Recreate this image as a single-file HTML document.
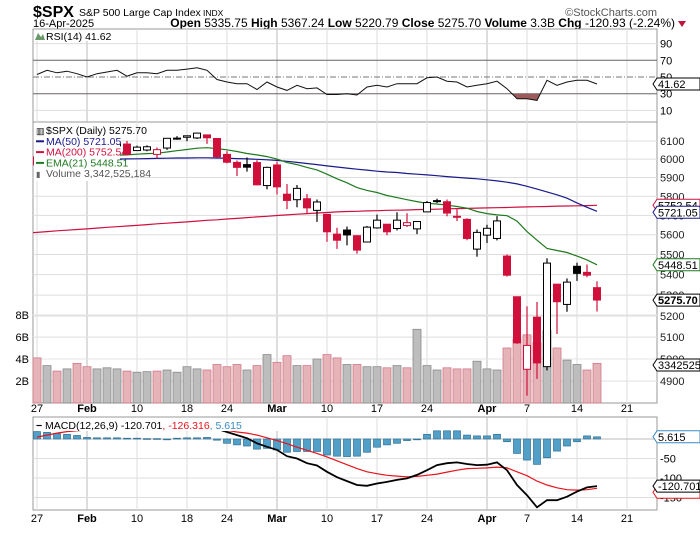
<!DOCTYPE html>
<html><head><meta charset="utf-8"><style>
body{margin:0;background:#fff;width:700px;height:530px;overflow:hidden;font-family:"Liberation Sans",sans-serif}
svg text{font-family:"Liberation Sans",sans-serif}
</style></head><body>
<svg id="c" width="700" height="530" viewBox="0 0 700 530" xmlns="http://www.w3.org/2000/svg">
<rect width="700" height="530" fill="#fff"/>
<g>
<text x="33" y="17" font-size="16" font-weight="bold">$SPX</text>
<text x="79" y="16" font-size="10.5">S&amp;P 500 Large Cap Index</text>
<text x="203" y="16" font-size="8.5">INDX</text>
<text x="657" y="16" font-size="11" fill="#555" text-anchor="end">©StockCharts.com</text>
<text x="33" y="27" font-size="11">16-Apr-2025</text>
<text x="675" y="27" font-size="12" text-anchor="end"><tspan font-weight="bold">Open</tspan> 5335.75 <tspan font-weight="bold">High</tspan> 5367.24 <tspan font-weight="bold">Low</tspan> 5220.79 <tspan font-weight="bold">Close</tspan> 5275.70 <tspan font-weight="bold">Volume</tspan> 3.3B <tspan font-weight="bold">Chg</tspan> -120.93 (-2.24%)</text>
<polygon points="678,21 686,21 682,27" fill="#c0143c"/>
</g>
<g id="grid"></g>
<g id="vol"></g>
<g id="lines"></g>
<g id="candles"></g>
<g id="rsi"></g>
<g id="macd"></g>
<g id="over"></g>
</svg>
<script>
const dates=['Jan27','Jan28','Jan29','Jan30','Jan31','Feb3','Feb4','Feb5','Feb6','Feb7','Feb10','Feb11','Feb12','Feb13','Feb14','Feb18','Feb19','Feb20','Feb21','Feb24','Feb25','Feb26','Feb27','Feb28','Mar3','Mar4','Mar5','Mar6','Mar7','Mar10','Mar11','Mar12','Mar13','Mar14','Mar17','Mar18','Mar19','Mar20','Mar21','Mar24','Mar25','Mar26','Mar27','Mar28','Mar31','Apr1','Apr2','Apr3','Apr4','Apr7','Apr8','Apr9','Apr10','Apr11','Apr14','Apr15','Apr16'];
const opens=[5969,6026,6057,6050,6082,5969,5998,6020,6073,6083,6047,6050,6026,6061,6116,6121,6117,6134,6114,6026,5982,5970,5981,5857,5968,5811,5782,5787,5726,5705,5603,5624,5595,5563,5635,5654,5632,5647,5630,5718,5775,5771,5695,5679,5527,5598,5581,5492,5292,4953,5194,4965,5353,5255,5441,5411,5336];
const highs=[6017,6069,6062,6086,6120,6023,6042,6062,6084,6101,6074,6076,6064,6116,6127,6129,6147,6134,6114,6044,5992,6009,5994,5959,5986,5865,5860,5812,5783,5705,5636,5642,5597,5645,5704,5654,5716,5711,5670,5775,5787,5783,5732,5685,5627,5651,5696,5500,5292,5246,5267,5481,5353,5381,5459,5450,5367];
const lows=[5962,6013,6020,6028,6031,5923,5990,6007,6051,6020,6046,6043,6004,6051,6107,6099,6111,6084,6009,5977,5908,5932,5858,5837,5810,5732,5742,5711,5666,5564,5528,5546,5504,5563,5631,5597,5622,5640,5603,5718,5764,5695,5670,5572,5489,5558,5571,5390,5069,4835,4910,4948,5115,5220,5369,5387,5221];
const closes=[6012,6067,6039,6071,6040,5994,6037,6061,6083,6026,6066,6068,6052,6115,6115,6129,6144,6118,6013,5983,5955,5956,5861,5955,5850,5778,5842,5739,5770,5615,5572,5599,5522,5639,5675,5615,5675,5662,5668,5767,5777,5712,5693,5581,5612,5633,5671,5397,5074,5062,4982,5457,5268,5363,5406,5397,5276];
const volumes=[4.1,3.4,2.9,3.1,3.6,3.3,3.1,3.2,3.1,2.9,2.8,2.85,2.9,3.0,2.8,3.3,3.1,3.0,3.5,3.3,3.5,3.0,3.4,4.4,3.7,4.3,3.4,3.4,4.0,4.4,4.1,3.5,3.5,3.3,3.3,3.2,3.4,3.2,6.7,3.4,3.0,3.2,3.1,3.1,3.8,3.1,3.0,5.0,5.8,6.2,5.5,6.6,5.0,3.9,3.5,3.0,3.6];
const ma50=[5985,5988,5990,5992,5994,5995,5997,5998,6000,6001,6002,6003,6004,6005,6006,6006,6007,6007,6006,6005,6003,6001,5999,5996,5993,5988,5982,5976,5970,5963,5957,5951,5945,5940,5934,5930,5927,5922,5918,5914,5910,5905,5901,5897,5893,5888,5882,5875,5866,5853,5838,5823,5808,5790,5765,5742,5721];
const ma200=[5612,5616,5620,5623,5627,5630,5634,5638,5641,5645,5648,5652,5656,5659,5663,5666,5670,5674,5677,5681,5684,5688,5692,5695,5699,5702,5706,5709,5712,5715,5718,5720,5721,5723,5724,5726,5727,5728,5730,5731,5732,5734,5735,5736,5738,5739,5740,5741,5743,5744,5745,5746,5748,5749,5750,5751,5752.5];
const ema21=[5990,5997,6000,6006,6009,6008,6011,6016,6022,6023,6027,6030,6032,6039,6046,6053,6060,6063,6058,6051,6042,6031,6023,6014,6000,5981,5970,5955,5941,5918,5893,5872,5846,5831,5820,5804,5793,5782,5772,5763,5759,5753,5746,5737,5720,5709,5702,5698,5670,5616,5572,5530,5520,5510,5492,5473,5448.5];
const rsiVals=[53,58,55,57,54,50,54,56,58,51,55,55,54,58,58,59.5,61,58,47,44,42,42,35,44,38,34,40,36,37,29,29,30,28.5,38,40,38,42,42,42,49,50,45,44,38,40,42,45,36,24,24,22,46,40,44,46,46,41.6];
const macdVals=[24,27,29,31,30,27,28,28,27,27,28,28,28,28,29,29,28,27,26,18,10,2,-11,-20,-28,-44,-50,-62,-68,-84,-98,-108,-118,-120,-114,-110,-105,-101,-92,-80,-67,-62,-60,-64,-67,-66,-60,-80,-118,-144,-175,-157,-157,-148,-135,-124,-120.7];
const signalVals=[5,10,15,19,21,23,24,24,24,24,24,24,24,25,25,25,24,24,23,22,18,15,10,3,-4,-12,-21,-29,-37,-46,-56,-66,-76,-84,-89,-93,-95,-97,-96,-93,-90,-85,-80,-76,-75,-74,-72,-74,-84,-94,-108,-118,-125,-130,-131,-130,-126.3];
const histVals=[19,17,14,12,9,4,3,3,3,2,2,1,1,-1,2,3,3,4,-3,-11,-15,-18,-26,-24,-28,-34,-32,-32,-32,-41,-44,-45,-44,-34,-21,-15,-11,-4,-1,12,21,21,21,10,8,8,12,-7,-37,-54,-65,-48,-31,-18,-7,8,5.6];
const xTickLabels=['27','Feb','10','18','24','Mar','10','17','24','Apr','7','14','21'];
const xTickIdx=[0,5,10,15,19,24,29,34,39,45,49,54,59];
const priceTicks=[6100,6000,5900,5800,5700,5600,5500,5400,5300,5200,5100,5000,4900];
const volTicks=[8,6,4,2];
const rsiTicks=[90,70,50,30,10];
const macdTicks=[-50,-100,-150];

const NS='http://www.w3.org/2000/svg';
function mk(parent,tag,attrs,txt){const e=document.createElementNS(NS,tag);for(const k in attrs)e.setAttribute(k,attrs[k]);if(txt!==undefined)e.textContent=txt;document.getElementById(parent).appendChild(e);return e;}
const L=33,R=657;
const xs=i=>37+10*i;
const py=p=>141+1096*Math.log(6100/p);
const vy=v=>403-11*v;
const ry=v=>77-(v-50)*0.835;
const my=v=>439-v*0.39;

let e;
[[29,122],[122,403],[417,510]].forEach((p,k)=>{
 e=mk('grid','rect',{x:L,y:p[0],width:R-L,height:p[1]-p[0],fill:'#fff',stroke:'#999'});
 
 
});
xTickIdx.forEach((ix,k)=>{
 const x=xs(ix); const major=/[A-Z]/.test(xTickLabels[k]);
 [[29,122],[122,403],[417,510]].forEach(p=>{
  e=mk('grid','line',{x1:x,x2:x,y1:p[0],y2:p[1],stroke:major?'#bbb':'#ddd'});
  
  
 });
 [412,522].forEach(y=>{
  e=mk('grid','text',{x:x,y:y,'font-size':11,'text-anchor':'middle','font-weight':major?'bold':'normal'},xTickLabels[k]);
  
  
 });
});
priceTicks.forEach(t=>{
 e=mk('grid','line',{x1:L,x2:R,y1:py(t),y2:py(t),stroke:'#ddd'});
 
 
 e=mk('grid','text',{x:660,y:py(t)+4,'font-size':11,fill:'#222'},t);
 
 
});
volTicks.forEach(t=>{
 e=mk('grid','line',{x1:L,x2:R,y1:vy(t),y2:vy(t),stroke:'#e4e4e4'});
 
 
 e=mk('grid','text',{x:29,y:vy(t)+4,'font-size':11,'text-anchor':'end'},t+'B');
 
 
});
rsiTicks.forEach(t=>{
 const dark=(t===70||t===30);
 e=mk('grid','line',{x1:L,x2:R,y1:ry(t),y2:ry(t),stroke:dark?'#666':(t===50?'#777':'#ddd'),'stroke-dasharray':t===50?'6,2,1,2':'none'});
 
 
 e=mk('grid','text',{x:660,y:ry(t)+4,'font-size':11},t);
 
 
});
macdTicks.forEach(t=>{
 e=mk('grid','line',{x1:L,x2:R,y1:my(t),y2:my(t),stroke:'#ddd'});
 
 
 e=mk('grid','text',{x:660,y:my(t)+4,'font-size':11},t);
 
 
});

volumes.forEach((v,i)=>{
 const prev=i?closes[i-1]:6101; const down=closes[i]<prev;
 e=mk('vol','rect',{x:xs(i)-4,y:vy(v),width:8,height:403-vy(v),fill:down?'#e6b3b8':'#bdbdbd',stroke:down?'#d07a88':'#8a8a8a','stroke-width':0.8});
 
 
});
function pathOf(arr,fx,fy){return arr.map((v,i)=>(i?'L':'M')+fx(i).toFixed(1)+','+fy(v).toFixed(1)).join('');}
e=mk('lines','path',{d:'M33,'+py(ma200[0]-1).toFixed(1)+pathOf(ma200,xs,py).replace('M','L'),fill:'none',stroke:'#d01040','stroke-width':1.2});


e=mk('lines','path',{d:pathOf(ma50,xs,py),fill:'none',stroke:'#1a1a8c','stroke-width':1.2});


e=mk('lines','path',{d:pathOf(ema21,xs,py),fill:'none',stroke:'#1f7a1f','stroke-width':1.2});


closes.forEach((c,i)=>{
 const o=opens[i],prev=i?closes[i-1]:6101;
 const col=c<prev?'#d0103a':'#000'; const filled=c<o;
 const x=xs(i);
 e=mk('candles','line',{x1:x,x2:x,y1:py(highs[i]),y2:py(lows[i]),stroke:col,'stroke-width':1.2});
 
 
 const top=py(Math.max(o,c)),bot=py(Math.min(o,c));
 e=mk('candles','rect',{x:x-3.5,y:top,width:7,height:Math.max(1,bot-top),fill:filled?col:'#fff',stroke:col,'stroke-width':1});
 
 
});
const rsiPath=pathOf(rsiVals,xs,ry);
mk('rsi','clipPath',{id:'below30'});
e=mk('below30','rect',{x:L,y:ry(30),width:R-L,height:122-ry(30)});
e=mk('rsi','path',{d:rsiPath+'L'+xs(rsiVals.length-1)+','+ry(30)+'L'+xs(0)+','+ry(30)+'Z',fill:'#9c5a5a','clip-path':'url(#below30)'});


e=mk('rsi','path',{d:rsiPath,fill:'none',stroke:'#111','stroke-width':1});


e=mk('macd','line',{x1:L,x2:R,y1:my(0),y2:my(0),stroke:'#bbb'});


histVals.forEach((h,i)=>{
 const y0=my(0),y1=my(h);
 e=mk('macd','rect',{x:xs(i)-3.5,y:Math.min(y0,y1),width:7,height:Math.max(0.8,Math.abs(y1-y0)),fill:'#52a0c8',stroke:'#2e6f94','stroke-width':0.7});
 
 
});
e=mk('macd','path',{d:pathOf(signalVals,xs,my),fill:'none',stroke:'#e8141c','stroke-width':1.2});


e=mk('macd','path',{d:pathOf(macdVals,xs,my),fill:'none',stroke:'#000','stroke-width':1.8});



function legend(g,x,y,w,h){e=mk(g,'rect',{x:x,y:y,width:w,height:h,fill:'#fff'});return e;}
e=legend('over',34,123,86,58);


const leg=[['$SPX (Daily) 5275.70','#000'],['MA(50) 5721.05','#1a1a8c'],['MA(200) 5752.54','#d01040'],['EMA(21) 5448.51','#1f7a1f'],['Volume 3,342,525,184','#555']];
leg.forEach((l,k)=>{
 const y=134+k*10.8;
 e=mk('over','text',{x:46,y:y,'font-size':10.5,fill:l[1]},l[0]);
 
 
 if(k>0&&k<4){e=mk('over','rect',{x:36,y:y-4.5,width:8,height:2,fill:l[1]});}
});
e=mk('over','text',{x:36,y:134,'font-size':9},'▥');


e=mk('over','text',{x:36,y:177,'font-size':8,fill:'#666'},'▮');


e=legend('over',34,30,90,11);


e=mk('over','polygon',{points:'35,40 38,33 41,37 43,34 45,40',fill:'#6a9a6a'});


e=mk('over','text',{x:46,y:40,'font-size':10.5},'RSI(14) 41.62');


e=legend('over',34,418,250,13);


e=mk('over','text',{x:36,y:429,'font-size':10.5},'');


e.innerHTML='<tspan font-weight="bold">−</tspan> MACD(12,26,9) -120.701<tspan fill="#e8141c">, -126.316</tspan><tspan fill="#3a8ac0">, 5.615</tspan>';

function tag(y,txt,col,bold,name){
 e=mk('over','polygon',{points:`653,${y} 657,${y-6} 700,${y-6} 700,${y+6} 657,${y+6}`,fill:'#fff',stroke:col,'stroke-width':1});
 
 
 e=mk('over','text',{x:658,y:y+4,'font-size':11,'font-weight':bold?'bold':'normal',fill:'#000'},txt);
 
 
}
tag(py(5752.54),'5752.54','#d01040',false,'ma200-value-tag');
tag(py(5721.05)+1,'5721.05','#1a1a8c',false,'ma50-value-tag');
tag(py(5448.51),'5448.51','#1f7a1f',false,'ema21-value-tag');
tag(py(5275.7),'5275.70','#000',true,'close-value-tag');
tag(365,'3342525','#000',false,'volume-value-tag');
tag(ry(41.62),'41.62','#000',false,'rsi-value-tag');
tag(my(5.615),'5.615','#3a8ac0',false,'histogram-value-tag');
tag(my(-126.3)+4,'','#e8141c',false,'signal-value-tag');
tag(my(-120.7),'-120.701','#000',false,'macd-value-tag');
</script>
</body></html>
